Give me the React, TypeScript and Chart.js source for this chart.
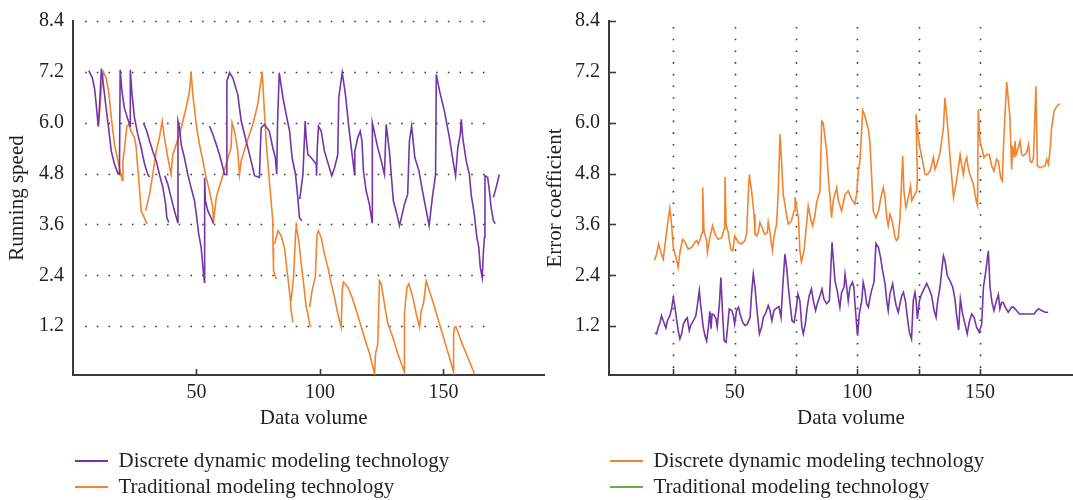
import React, { useEffect, useRef } from 'react';
import { Chart, registerables } from 'chart.js';

Chart.register(...registerables);

const FONT = "'Liberation Serif', 'Times New Roman', serif";
const PURPLE = '#7436A6';
const ORANGE = '#F2842F';
const GREEN = '#6CAB4B';
const INK = '#231F20';
const AXIS = '#3A3A3A';
const DOT = '#3A3A3A';

// ---------- tick values ----------
const yTickValues = [1.2, 2.4, 3.6, 4.8, 6.0, 7.2, 8.4];
const leftXTickValues = [50, 100, 150];
const rightXTickValues = [25, 50, 75, 100, 125, 150];
const rightXLabelValues = [50, 100, 150];

// ---------- legend labels ----------
const leftLegendLabels = ['Discrete dynamic modeling technology', 'Traditional modeling technology'];
const rightLegendLabels = ['Discrete dynamic modeling technology', 'Traditional modeling technology'];

// ---------- left panel: running speed ----------
const leftDiscreteX = [
  6.4, 7.8, 8.7, 9.4, 10.2, 10.7, 11.5, 12.3, 13.4, 14.4, 15.5, 16.8, 18.2, 18.8, 19.1, 19.8, 20.8, 22.2, 23.1, 23.2, 23.9, 24.9, 26.2, 27.6, 29.0, 30.3, 31.0, null,
  28.5, 29.9, 31.0, 32.3, 33.7, 35.0, 36.4, 37.5, 38.0, 38.8, null,
  37.2, 38.4, 39.7, 41.1, 42.4, 42.5, 43.1, 43.8, 45.1, 46.5, 47.8, 49.2, 50.1, 50.9, 51.9, 52.6, 53.2, 53.3, 53.6, 54.6, 55.9, 56.9, null,
  55.3, 56.6, 58.0, 59.3, 60.7, 61.3, 62.0, 62.3, 63.4, 64.7, 66.7, 68.1, 70.1, 72.1, 73.5, 75.5, 75.8, 76.2, 77.5, 79.5, 80.9, 81.9, 82.5, 82.8, 83.5, 85.0, 86.3, 87.7, 88.7, 90.1, 91.0, 91.7, 92.6, null,
  91.8, 93.1, 94.0, 94.4, 95.1, 96.4, 98.5, 98.6, 98.9, 99.4, 100.5, 101.8, 103.8, 104.8, 105.9, 107.2, 107.6, 109.0, 110.3, 111.7, 113.0, 114.0, 114.1, 115.3, 116.3, 117.0, 117.6, 118.7, 120.0, 121.1, 121.2, 122.5, 123.4, 124.8, 126.1, 126.8, 128.1, 129.7, 130.8, 132.2, 134.2, 135.5, 136.2, 137.1, 138.4, 140.1, 141.5, 142.8, 144.2, 145.5, 146.8, 147.1, 148.4, 150.4, 152.4, 154.1, 154.9, 155.8, 156.8, 157.2, 157.8, 159.2, 160.5, 161.2, 162.5, 163.5, 164.3, 164.9, 165.7, 166.2, 166.6, 166.8, 167.9, 168.6, 169.3, 170.2, 171.0, null,
  170.2, 171.3, 172.6,
];
const leftDiscreteY = [
  7.23, 7.06, 6.82, 6.43, 5.92, 6.35, 7.28, 6.9, 6.35, 5.88, 5.33, 5.02, 4.8, 4.78, 7.25, 6.75, 6.35, 6.08, 5.92, 7.25, 6.67, 6.12, 5.73, 5.41, 5.02, 4.78, 4.72, null,
  6.0, 5.8, 5.57, 5.33, 5.1, 4.78, 4.47, 4.08, 3.76, 3.65, null,
  4.75, 4.55, 4.24, 3.92, 3.65, 6.04, 5.88, 5.49, 5.18, 4.78, 4.47, 4.16, 3.76, 3.37, 3.06, 2.59, 2.24, 4.7, 4.16, 3.92, 3.76, 3.62, null,
  5.92, 5.73, 5.49, 5.25, 4.94, 4.78, 4.78, 6.98, 7.18, 7.06, 6.67, 6.04, 5.57, 5.1, 4.75, 4.71, 5.33, 5.88, 5.96, 5.8, 5.41, 5.18, 4.78, 5.96, 7.18, 6.59, 6.2, 5.8, 5.18, 4.78, 4.24, 3.76, 3.69, null,
  4.2, 4.78, 6.04, 5.65, 5.25, 5.18, 5.02, 4.75, 5.41, 5.92, 5.8, 5.33, 4.94, 4.75, 4.94, 5.25, 6.59, 7.18, 6.67, 5.88, 5.25, 4.78, 5.33, 5.65, 5.8, 5.57, 4.86, 4.39, 4.08, 3.65, 6.0, 5.65, 5.41, 5.1, 4.78, 5.96, 5.33, 4.16, 3.92, 3.57, 4.08, 4.31, 5.57, 5.92, 5.18, 4.86, 4.39, 4.0, 3.57, 4.24, 4.78, 7.14, 6.75, 6.27, 5.65, 5.02, 4.75, 5.41, 5.73, 6.08, 5.65, 5.1, 4.78, 4.31, 3.84, 3.3, 3.06, 2.59, 2.35, 3.0, 3.3, 4.75, 4.71, 4.39, 4.0, 3.69, 3.62, null,
  4.24, 4.47, 4.78,
];

const leftTraditionalX = [
  10.3, 11.4, 12.3, 13.4, 14.4, 15.5, 16.8, 18.8, 19.9, 20.2, 20.9, 21.8, 22.6, 23.5, 24.9, 25.6, 26.2, 26.9, 27.6, 28.3, 29.4, 29.9, null,
  29.4, 31.0, 32.3, 33.7, 35.0, 36.1, 37.0, 38.4, 39.7, 40.4, 41.8, 43.1, 44.5, 45.8, 47.2, 47.8, 48.5, 49.9, 51.2, 52.6, 53.9, 55.3, 56.6, 56.9, 58.0, 60.0, 62.0, 64.0, 64.4, 65.4, 66.7, 67.4, 68.1, 70.1, 72.8, 74.8, 76.6, 77.1, 78.2, 79.5, 80.9, 81.0, 81.2, 82.3, null,
  81.6, 83.0, 84.3, 85.6, 87.0, 87.9, 88.3, 89.0, null,
  88.3, 89.3, 90.1, 90.4, 91.4, 92.4, 93.7, 94.4, 95.1, 95.8, 96.4, null,
  95.8, 96.8, 98.1, 98.8, 99.4, 100.5, 101.8, 103.2, 104.6, 105.9, 107.2, 108.6, 109.0, 109.5, 111.3, 113.0, 114.7, 116.7, 118.8, 120.1, 122.1, 122.5, 123.4, 124.1, 124.8, 126.1, 127.5, 129.5, 131.5, 134.2, 134.2, 135.2, 136.0, 137.6, 139.0, 140.3, 141.0, 141.9, 143.0, 144.3, 146.4, 148.4, 150.4, 152.4, 154.1, 154.1, 154.5, 155.1, 157.1, 159.2, 161.2, 162.5,
];
const leftTraditionalY = [
  5.9, 6.75, 7.2, 7.06, 6.75, 6.12, 5.49, 4.94, 4.64, 5.1, 5.41, 5.92, 5.96, 5.8, 5.65, 5.41, 4.94, 4.47, 3.92, 3.84, 3.69, 3.61, null,
  3.92, 4.31, 4.78, 5.33, 5.65, 6.04, 5.65, 5.18, 4.78, 5.25, 5.49, 5.73, 6.04, 6.35, 6.75, 7.2, 6.67, 5.96, 5.49, 5.1, 4.71, 4.39, 4.0, 3.65, 4.24, 4.63, 5.02, 5.41, 6.0, 5.8, 5.33, 4.78, 5.1, 5.49, 5.96, 6.43, 7.2, 6.67, 5.57, 4.63, 3.69, 3.06, 2.51, 2.31, null,
  3.14, 3.45, 3.33, 3.06, 2.35, 1.88, 1.57, 1.29, null,
  1.8, 2.35, 3.37, 3.57, 3.22, 2.67, 2.04, 1.65, 1.49, 1.25, 1.18, null,
  1.65, 2.04, 2.35, 3.37, 3.45, 3.29, 2.9, 2.59, 2.2, 1.88, 1.49, 1.18, 2.04, 2.24, 2.12, 1.88, 1.57, 1.18, 0.78, 0.55, 0.08, 0.55, 0.78, 2.27, 2.2, 1.73, 1.25, 0.94, 0.55, 0.12, 1.49, 2.12, 2.2, 1.88, 1.49, 1.18, 1.57, 1.73, 2.27, 2.04, 1.65, 1.25, 0.86, 0.47, 0.12, 1.02, 1.18, 1.18, 0.86, 0.55, 0.27, 0.08,
];

// ---------- right panel: error coefficient ----------
const rightOrangeX = [
  17.3, 18.2, 19.0, 20.0, 20.9, 22.3, 23.6, 24.3, 25.0, 26.1,
  27.0, 27.7, 28.8, 29.8, 31.1, 32.5, 33.8, 34.5, 35.2, 35.9,
  36.8, 37.0, 37.5, 38.6, 38.9, 39.9, 41.0, 42.0, 43.3, 44.7,
  45.7, 46.0, 46.1, 46.5, 47.4, 48.4, 49.2, 50.1, 51.5, 52.9,
  54.2, 54.9, 55.6, 56.0, 56.9, 57.9, 58.3, 59.0, 59.6, 60.3,
  61.4, 62.3, 63.3, 63.7, 64.4, 65.4, 66.0, 67.1, 67.8, 68.5,
  69.1, 69.8, 70.5, 71.2, 71.9, 73.2, 74.2, 74.6, 75.3, 76.0,
  76.6, 77.2, 78.3, 79.3, 80.0, 81.0, 81.8, 82.7, 83.4, 84.8,
  85.5, 86.1, 87.5, 88.2, 88.9, 89.5, 90.2, 91.6, 92.3, 93.6,
  95.0, 96.3, 97.7, 99.0, 99.7, 100.4, 101.1, 102.2, 103.1, 104.5,
  105.2, 105.8, 106.5, 107.6, 108.6, 109.9, 110.6, 111.3, 112.0, 112.6,
  113.3, 114.0, 114.7, 115.4, 116.0, 116.7, 117.4, 118.5, 119.0, 119.8,
  120.8, 121.7, 122.2, 123.1, 124.2, 124.5, 123.9, 124.9, 125.5, 126.6,
  127.6, 128.3, 129.7, 131.0, 131.7, 132.4, 133.7, 135.1, 135.7, 136.4,
  137.1, 137.8, 138.5, 139.2, 140.2, 141.2, 141.9, 142.5, 143.2, 143.9,
  144.6, 145.2, 145.9, 147.3, 148.0, 148.6, 149.0, 149.3, 150.0, 150.7,
  151.6, 152.7, 153.8, 154.8, 155.7, 156.8, 157.5, 158.4, 159.1, 159.5,
  160.2, 160.9, 161.6, 162.2, 162.9, 163.3, 163.9, 164.3, 164.7, 165.6,
  166.3, 167.0, 167.7, 169.0, 169.8, 170.4, 171.1, 171.8, 172.8, 173.4,
  174.5, 176.5, 177.2, 177.9, 178.5, 179.2, 180.2, 181.3, 182.6,
];
const rightOrangeY = [
  2.75, 2.9, 3.14, 2.94, 2.78, 3.45, 3.98, 3.61, 3.06, 2.82,
  2.59, 2.94, 3.25, 3.18, 3.02, 3.06, 3.18, 3.22, 3.14, 3.25,
  3.41, 4.47, 3.45, 3.22, 2.94, 3.29, 3.57, 3.37, 3.25, 3.29,
  3.49, 3.69, 4.72, 3.61, 3.41, 3.02, 2.98, 3.33, 3.18, 3.14,
  3.22, 3.41, 4.35, 4.78, 4.39, 3.84, 3.37, 3.33, 3.41, 3.65,
  3.49, 3.37, 3.41, 3.65, 3.41, 2.98, 3.29, 3.61, 4.39, 5.73,
  5.1, 4.31, 4.08, 3.8, 3.61, 3.69, 3.92, 4.24, 4.0, 3.76,
  2.98, 2.72, 2.98, 3.61, 4.04, 3.73, 3.57, 3.8, 4.12, 4.39,
  6.04, 6.0, 5.33, 4.71, 4.24, 3.76, 4.16, 4.47, 4.16, 3.92,
  4.31, 4.39, 4.2, 4.08, 4.31, 4.86, 5.1, 6.29, 6.16, 5.84,
  5.49, 4.78, 3.92, 3.76, 3.92, 4.31, 4.47, 4.24, 3.76, 3.57,
  3.84, 3.73, 3.53, 3.29, 3.22, 3.29, 3.76, 5.22, 4.39, 4.0,
  4.24, 4.51, 4.16, 4.27, 4.39, 4.71, 6.2, 5.65, 5.41, 5.1,
  4.78, 4.77, 4.86, 5.18, 4.9, 5.02, 5.29, 5.88, 6.59, 6.2,
  5.73, 5.18, 4.71, 4.24, 4.55, 4.94, 5.25, 5.02, 4.78, 5.06,
  5.18, 4.94, 4.78, 4.55, 4.31, 4.12, 4.04, 6.31, 5.57, 5.41,
  5.18, 5.25, 5.25, 4.98, 4.86, 5.14, 5.1, 4.71, 4.63, 5.33,
  6.2, 6.96, 6.51, 6.12, 4.9, 5.45, 5.18, 5.57, 5.25, 5.41,
  5.57, 5.25, 5.22, 5.29, 5.49, 5.1, 5.06, 5.18, 6.86, 4.98,
  4.94, 4.98, 5.14, 5.02, 5.33, 5.88, 6.27, 6.39, 6.45,
];

const rightPurpleX = [
  17.5, 18.2, 18.9, 19.6, 20.2, 20.9, 21.6, 22.0, 22.6, 23.6,
  24.3, 25.0, 25.7, 26.4, 27.0, 27.7, 28.4, 29.1, 30.2, 30.7,
  31.5, 32.1, 33.2, 34.2, 34.9, 35.6, 36.1, 37.2, 37.9, 38.6,
  39.3, 39.9, 40.4, 40.8, 41.6, 42.4, 42.9, 43.8, 44.4, 45.1,
  45.7, 46.5, 47.0, 47.8, 48.8, 49.5, 50.0, 50.8, 51.6, 52.2,
  53.3, 54.2, 55.2, 56.3, 56.9, 57.6, 58.3, 59.0, 60.1, 61.0,
  61.7, 62.8, 63.7, 64.4, 65.2, 66.0, 67.1, 68.1, 68.9, 69.6,
  70.5, 71.2, 71.9, 72.6, 73.4, 74.2, 75.0, 75.8, 76.6, 77.4,
  78.0, 78.8, 79.6, 80.4, 81.3, 82.1, 83.0, 83.7, 84.8, 85.6,
  86.4, 87.5, 88.6, 89.7, 90.9, 91.8, 92.9, 93.6, 94.6, 95.0,
  95.7, 96.3, 97.0, 98.0, 98.6, 99.0, 99.7, 100.1, 100.8, 101.8,
  102.4, 103.1, 103.8, 104.5, 105.2, 105.8, 106.8, 107.6, 108.6, 109.5,
  110.3, 111.3, 112.0, 112.6, 113.3, 114.4, 115.1, 115.8, 116.7, 117.4,
  118.1, 118.8, 119.6, 120.4, 121.2, 122.1, 122.8, 123.5, 123.9, 124.5,
  125.3, 126.2, 127.2, 128.3, 129.3, 130.3, 131.3, 132.1, 132.6, 133.7,
  134.4, 135.1, 135.7, 136.7, 137.8, 138.9, 139.8, 140.5, 141.3, 142.0,
  142.9, 143.9, 144.8, 145.6, 146.6, 147.6, 148.6, 149.7, 150.7, 151.4,
  152.4, 153.4, 154.1, 154.9, 155.7, 156.5, 157.5, 158.1, 158.8, 159.5,
  160.2, 161.5, 162.9, 163.6, 164.9, 166.0, 169.0, 172.0, 173.1, 173.9,
  175.1, 176.5, 177.8,
];
const rightPurpleY = [
  1.04, 1.02, 1.18, 1.29, 1.45, 1.33, 1.22, 1.16, 1.33, 1.45,
  1.61, 1.87, 1.65, 1.33, 1.1, 0.9, 1.02, 1.25, 1.37, 1.4,
  1.1, 1.22, 1.33, 1.45, 1.73, 2.04, 1.73, 1.18, 0.98, 0.85,
  1.18, 1.55, 1.14, 1.49, 1.47, 1.37, 1.19, 1.73, 2.35, 1.49,
  0.86, 0.82, 1.1, 1.61, 1.57, 1.45, 1.25, 1.57, 1.65, 1.49,
  1.29, 1.22, 1.25, 1.41, 1.96, 2.43, 2.12, 1.65, 1.02, 1.18,
  1.41, 1.53, 1.69, 1.57, 1.33, 1.57, 1.63, 1.66, 1.41, 2.12,
  2.9, 2.59, 2.12, 1.73, 1.33, 1.29, 1.57, 1.96, 1.8, 1.18,
  1.02, 1.25, 1.65, 1.92, 2.08, 1.8, 1.57, 1.73, 1.92, 2.08,
  1.84, 1.73, 1.8, 3.18, 2.27, 2.04, 1.65, 2.0, 2.12, 2.43,
  2.12, 1.8, 2.12, 2.24, 2.12, 1.76, 1.25, 0.98, 1.49, 1.8,
  2.24, 2.04, 1.73, 1.65, 1.88, 2.04, 2.24, 3.15, 3.06, 2.82,
  2.51, 2.2, 1.8, 1.57, 1.96, 2.2, 1.92, 1.69, 1.53, 1.73,
  1.92, 2.0, 1.8, 1.41, 1.06, 0.9, 1.8, 2.0, 1.84, 1.37,
  1.8, 1.96, 2.08, 2.21, 2.08, 1.92, 1.57, 1.41, 1.73, 2.12,
  2.51, 2.86, 2.75, 2.39, 2.27, 2.12, 1.84, 1.45, 1.11, 1.84,
  1.49, 1.25, 1.02, 1.29, 1.49, 1.41, 1.18, 1.06, 1.25, 2.12,
  2.51, 2.98, 2.12, 1.76, 1.57, 1.76, 1.95, 1.61, 1.76, 1.76,
  1.66, 1.53, 1.65, 1.65, 1.57, 1.49, 1.49, 1.49, 1.57, 1.61,
  1.57, 1.53, 1.53,
];

function toPoints(xs: (number | null)[], ys: (number | null)[]) {
  return xs.map((x, i) => ({ x: x as any, y: ys[i] as any }));
}

type Decor = {
  hDots?: { values: number[]; from: number; to: number };
  vDots?: number[];
  xMarks: number[];
  yMarks: number[];
  legendDx: number;
  legendDy: number;
};

function makeDecor(cfg: Decor) {
  return {
    id: 'decor',
    afterLayout(chart: any) {
      const lg = chart.legend;
      if (lg) {
        lg.left += cfg.legendDx;
        lg.right += cfg.legendDx;
        lg.top += cfg.legendDy;
        lg.bottom += cfg.legendDy;
      }
    },
    beforeDatasetsDraw(chart: any) {
      const { ctx, chartArea: a, scales } = chart;
      const xs = scales.x;
      const ys = scales.y;
      ctx.save();
      ctx.strokeStyle = DOT;
      ctx.lineWidth = 1.6;
      ctx.setLineDash([1.6, 10.1]);
      if (cfg.hDots) {
        for (const v of cfg.hDots.values) {
          const py = Math.round(ys.getPixelForValue(v)) + 0.5;
          ctx.beginPath();
          ctx.moveTo(xs.getPixelForValue(cfg.hDots.from), py);
          ctx.lineTo(xs.getPixelForValue(cfg.hDots.to), py);
          ctx.stroke();
        }
      }
      if (cfg.vDots) {
        for (const v of cfg.vDots) {
          const px = Math.round(xs.getPixelForValue(v)) + 0.5;
          ctx.beginPath();
          ctx.moveTo(px, a.top + 6);
          ctx.lineTo(px, a.bottom);
          ctx.stroke();
        }
      }
      ctx.setLineDash([]);
      ctx.strokeStyle = AXIS;
      ctx.lineWidth = 1.6;
      for (const v of cfg.xMarks) {
        const px = Math.round(xs.getPixelForValue(v)) + 0.5;
        ctx.beginPath();
        ctx.moveTo(px, a.bottom);
        ctx.lineTo(px, a.bottom - 6);
        ctx.stroke();
      }
      for (const v of cfg.yMarks) {
        const py = Math.round(ys.getPixelForValue(v)) + 0.5;
        ctx.beginPath();
        ctx.moveTo(a.left, py);
        ctx.lineTo(a.left + 7, py);
        ctx.stroke();
      }
      ctx.restore();
    },
  };
}

type PanelCfg = {
  series: { label: string; xs: (number | null)[]; ys: (number | null)[]; color: string }[];
  legendLabels: string[];
  legendColors: string[];
  yTitle: string;
  xTitle: string;
  yTitlePad: number;
  yWidth: number;
  xMin: number;
  xMax: number;
  xTicks: number[];
  xLabels: number[];
  decor: Decor;
};

function buildConfig(p: PanelCfg): any {
  return {
    type: 'line',
    data: {
      datasets: p.series.map((s) => ({
        label: s.label,
        data: toPoints(s.xs, s.ys),
        borderColor: s.color,
        backgroundColor: s.color,
        borderWidth: 1.6,
        pointRadius: 0,
        tension: 0,
        spanGaps: false,
        fill: false,
      })),
    },
    options: {
      responsive: false,
      animation: false,
      devicePixelRatio: 1,
      events: [],
      layout: { padding: { top: 20, right: 1, left: 0, bottom: 0 } },
      scales: {
        x: {
          type: 'linear',
          min: p.xMin,
          max: p.xMax,
          afterBuildTicks: (s: any) => {
            s.ticks = p.xTicks.map((v) => ({ value: v }));
          },
          afterFit: (s: any) => {
            s.height = 63;
          },
          grid: { display: false, drawTicks: false },
          border: { display: true, color: AXIS, width: 2 },
          ticks: {
            autoSkip: false,
            maxRotation: 0,
            padding: 6,
            color: INK,
            font: { family: FONT, size: 20 },
            callback: (v: any) => (p.xLabels.includes(Number(v)) ? String(v) : ''),
          },
          title: {
            display: true,
            text: p.xTitle,
            color: INK,
            font: { family: FONT, size: 21, lineHeight: 1.2 },
            padding: { top: 0, bottom: 7 },
          },
        },
        y: {
          type: 'linear',
          min: 0.05,
          max: 8.4,
          afterBuildTicks: (s: any) => {
            s.ticks = yTickValues.map((v) => ({ value: v }));
          },
          afterFit: (s: any) => {
            s.width = p.yWidth;
          },
          grid: { display: false, drawTicks: false },
          border: { display: true, color: AXIS, width: 2 },
          ticks: {
            padding: 9,
            color: INK,
            font: { family: FONT, size: 20 },
            callback: (v: any) => Number(v).toFixed(1),
          },
          title: {
            display: true,
            text: p.yTitle,
            color: INK,
            font: { family: FONT, size: 21, lineHeight: 1.2 },
            padding: { top: p.yTitlePad, bottom: 0 },
          },
        },
      },
      plugins: {
        tooltip: { enabled: false },
        legend: {
          display: true,
          position: 'bottom',
          align: 'start',
          labels: {
            boxWidth: 33,
            boxHeight: 2,
            padding: 5,
            color: INK,
            font: { family: FONT, size: 21 },
            generateLabels: () =>
              p.legendLabels.map((t, i) => ({
                text: t,
                fillStyle: p.legendColors[i],
                strokeStyle: p.legendColors[i],
                lineWidth: 0,
                hidden: false,
                datasetIndex: i,
                fontColor: INK,
              })),
          },
        },
      },
    },
    plugins: [makeDecor(p.decor)],
  };
}

export default function App() {
  const leftRef = useRef<HTMLCanvasElement | null>(null);
  const rightRef = useRef<HTMLCanvasElement | null>(null);

  useEffect(() => {
    if (!leftRef.current || !rightRef.current) return;
    const left = new Chart(
      leftRef.current,
      buildConfig({
        series: [
          { label: leftLegendLabels[0], xs: leftDiscreteX, ys: leftDiscreteY, color: PURPLE },
          { label: leftLegendLabels[1], xs: leftTraditionalX, ys: leftTraditionalY, color: ORANGE },
        ],
        legendLabels: leftLegendLabels,
        legendColors: [PURPLE, ORANGE],
        yTitle: 'Running speed',
        xTitle: '\u00a0\u00a0Data volume',
        yTitlePad: 5,
        yWidth: 73,
        xMin: 0,
        xMax: 190.7,
        xTicks: leftXTickValues,
        xLabels: leftXTickValues,
        decor: {
          hDots: { values: yTickValues, from: 4.9, to: 170.5 },
          xMarks: leftXTickValues,
          yMarks: [],
          legendDx: 70,
          legendDy: 7.5,
        },
      })
    );
    const right = new Chart(
      rightRef.current,
      buildConfig({
        series: [
          { label: rightLegendLabels[0], xs: rightOrangeX, ys: rightOrangeY, color: ORANGE },
          { label: rightLegendLabels[1], xs: rightPurpleX, ys: rightPurpleY, color: PURPLE },
        ],
        legendLabels: rightLegendLabels,
        legendColors: [ORANGE, GREEN],
        yTitle: 'Error coefficient',
        xTitle: '\u00a0\u00a0\u00a0\u00a0Data volume',
        yTitlePad: 2.4,
        yWidth: 69,
        xMin: -1.2,
        xMax: 187.5,
        xTicks: rightXTickValues,
        xLabels: rightXLabelValues,
        decor: {
          vDots: rightXTickValues,
          xMarks: rightXTickValues,
          yMarks: yTickValues,
          legendDx: 65,
          legendDy: 7.5,
        },
      })
    );
    return () => {
      left.destroy();
      right.destroy();
    };
  }, []);

  return (
    <div style={{ position: 'fixed', left: 0, top: 0, width: 1073, height: 500, background: '#fff', overflow: 'hidden' }}>
      <canvas ref={leftRef} width={545} height={500} style={{ position: 'absolute', left: 0, top: 0, width: 545, height: 500 }} />
      <canvas ref={rightRef} width={533} height={500} style={{ position: 'absolute', left: 540, top: 0, width: 533, height: 500 }} />
    </div>
  );
}
